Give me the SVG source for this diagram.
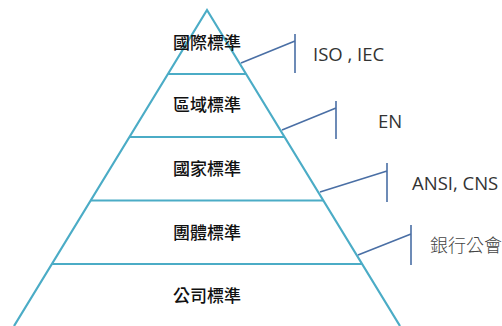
<svg xmlns="http://www.w3.org/2000/svg" width="502" height="326" viewBox="0 0 502 326">
<style>
.py{fill:none;stroke:#4BACC6;stroke-width:2.2;stroke-linejoin:miter}
.cn{fill:none;stroke:#4A6FA5;stroke-width:1.6}
.lv{font-family:"Noto Sans CJK TC","Noto Sans CJK SC",sans-serif;font-size:17px;fill:#111;text-anchor:middle;font-weight:500}
.lb{font-family:"Open Sans","Noto Sans","Noto Sans CJK TC",sans-serif;font-size:18.5px;fill:#333}
.lbc{font-family:"Noto Sans CJK TC",sans-serif;font-size:18px;fill:#444;font-weight:300}
</style>
<rect width="502" height="326" fill="#fff"/>
<g id="pyramid">
<path class="py" d="M14,326 L207,10 L400,326"/>
</g>
<g id="level1"><line class="py" x1="168" y1="74" x2="246" y2="74"/><text class="lv" x="207" y="49">國際標準</text></g>
<g id="level2"><line class="py" x1="129.5" y1="137" x2="284.5" y2="137"/><text class="lv" x="207" y="111">區域標準</text></g>
<g id="level3"><line class="py" x1="91" y1="200.5" x2="323" y2="200.5"/><text class="lv" x="207" y="174.5">國家標準</text></g>
<g id="level4"><line class="py" x1="52" y1="264" x2="362" y2="264"/><text class="lv" x="207" y="239">團體標準</text></g>
<g id="level5"><text class="lv" x="207" y="302">公司標準</text></g>
<g id="connectors">
<path class="cn" d="M241,63 L295,41 M295,34 L295,73"/>
<path class="cn" d="M282,130 L336,108 M336,101 L336,139"/>
<path class="cn" d="M320,192 L387,171 M387,163 L387,202"/>
<path class="cn" d="M358,255 L411,234 M411,225 L411,265"/>
</g>
<g id="label1"><text class="lb" x="313" y="61">ISO , IEC</text></g>
<g id="label2"><text class="lb" x="378" y="127.5">EN</text></g>
<g id="label3"><text class="lb" x="412" y="189.5">ANSI, CNS</text></g>
<g id="label4"><text class="lbc" x="430" y="252">銀行公會</text></g>
</svg>
